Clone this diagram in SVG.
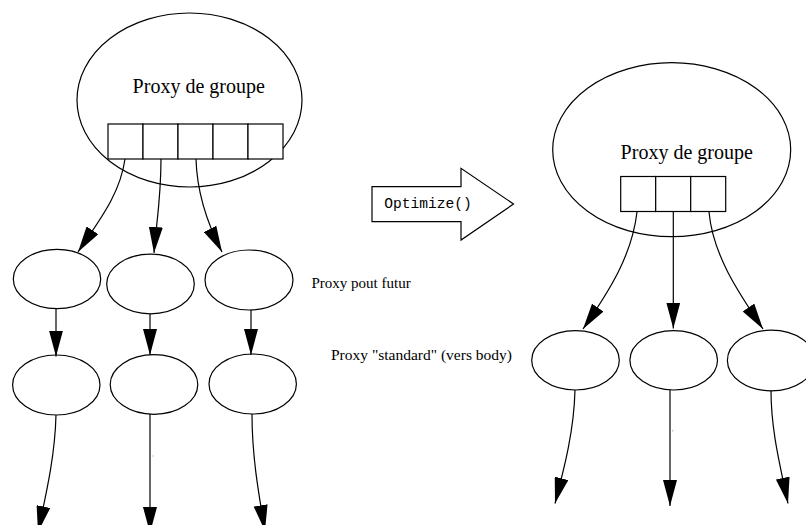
<svg xmlns="http://www.w3.org/2000/svg" width="806" height="525" viewBox="0 0 806 525">
<style>
.n{fill:#fff;stroke:#000;stroke-width:1.2}
.c{fill:none;stroke:#000;stroke-width:1.2}
.t{font-family:"Liberation Serif","Times New Roman",serif;fill:#000}
.m{font-family:"Liberation Mono","Courier New",monospace;fill:#000}
</style>
<defs>
<marker id="ah" viewBox="0 0 26 14" markerWidth="26" markerHeight="14" refX="26" refY="7" orient="auto" markerUnits="userSpaceOnUse">
<path d="M0,0 L26,7 L0,14 z" fill="#000"/>
</marker>
</defs>
<rect width="806" height="525" fill="#fff"/>
<g id="group-proxy-left">
<ellipse class="n" cx="189.5" cy="100" rx="112.5" ry="87"/>
<text class="t" x="198.7" y="93" font-size="20" text-anchor="middle">Proxy de groupe</text>
<rect class="n" x="108" y="124" width="35" height="35"/>
<rect class="n" x="143" y="124" width="35" height="35"/>
<rect class="n" x="178" y="124" width="35" height="35"/>
<rect class="n" x="213" y="124" width="35" height="35"/>
<rect class="n" x="248" y="124" width="35" height="35"/>
</g>
<g id="fut1"><ellipse class="n" cx="57" cy="279" rx="43.7" ry="29.7"/></g>
<g id="fut2"><ellipse class="n" cx="150.5" cy="284" rx="43.8" ry="29.8"/></g>
<g id="fut3"><ellipse class="n" cx="249" cy="280" rx="44" ry="30"/></g>
<g id="std1"><ellipse class="n" cx="56.3" cy="385" rx="43.7" ry="30"/></g>
<g id="std2"><ellipse class="n" cx="154" cy="384.5" rx="43.8" ry="29.8"/></g>
<g id="std3"><ellipse class="n" cx="252.7" cy="384" rx="43.7" ry="30"/></g>
<g id="optimize">
<polygon class="n" points="372,186.7 461,186.7 461,168.3 513.5,204 461,240 461,221.7 372,221.7"/>
<text class="m" x="384.3" y="208" font-size="14.6">Optimize()</text>
</g>
<g id="labels">
<text class="t" x="311.5" y="288.3" font-size="15">Proxy pout futur</text>
<text class="t" x="331" y="359.5" font-size="15.5">Proxy "standard" (vers body)</text>
</g>
<g id="group-proxy-right">
<ellipse class="n" cx="671.7" cy="149.7" rx="119" ry="87"/>
<text class="t" x="686.7" y="159.3" font-size="20" text-anchor="middle">Proxy de groupe</text>
<rect class="n" x="620.7" y="176.5" width="35" height="35"/>
<rect class="n" x="655.7" y="176.5" width="35" height="35"/>
<rect class="n" x="690.7" y="176.5" width="35" height="35"/>
</g>
<g id="rstd1"><ellipse class="n" cx="575.5" cy="360.3" rx="43.8" ry="29.7"/></g>
<g id="rstd2"><ellipse class="n" cx="673.7" cy="360.3" rx="43.8" ry="29.7"/></g>
<g id="rstd3"><ellipse class="n" cx="771.2" cy="360.5" rx="43.8" ry="30.3"/></g>
<g id="connectors">
<path class="c" marker-end="url(#ah)" d="M125,159 C120,195 98,222 78,252"/>
<path class="c" marker-end="url(#ah)" d="M161,159 C161,200 156,225 154,253"/>
<path class="c" marker-end="url(#ah)" d="M196,159 C197,195 208,225 222,252"/>
<path class="c" marker-end="url(#ah)" d="M56,309 L56,356.5"/>
<path class="c" marker-end="url(#ah)" d="M150,314 L150,355"/>
<path class="c" marker-end="url(#ah)" d="M251,310 L251,355"/>
<path class="c" marker-end="url(#ah)" d="M56,415 C55,455 47,490 38,532"/>
<path class="c" marker-end="url(#ah)" d="M150,414 L150,533"/>
<path class="c" marker-end="url(#ah)" d="M252,414 C252,455 258,490 265,531"/>
<path class="c" marker-end="url(#ah)" d="M637,212 C632,255 610,290 583,329"/>
<path class="c" marker-end="url(#ah)" d="M673.3,212 L673.3,328.5"/>
<path class="c" marker-end="url(#ah)" d="M709,212 C713,255 738,292 763,329"/>
<path class="c" marker-end="url(#ah)" d="M575,390 C574,430 565,465 555,503.5"/>
<path class="c" marker-end="url(#ah)" d="M670,390 L670,506"/>
<path class="c" marker-end="url(#ah)" d="M771,390.5 C771,430 780,465 788,503.5"/>
</g>
<rect x="152.5" y="455.5" width="1" height="1" fill="#888"/>
<rect x="672.3" y="430.3" width="1" height="1" fill="#888"/>
</svg>
